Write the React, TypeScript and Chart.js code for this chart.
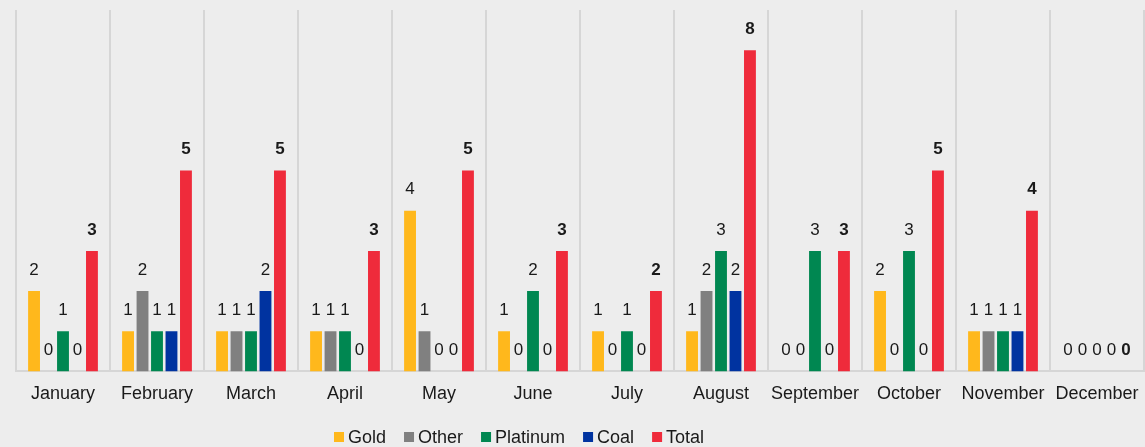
import React, { useEffect, useRef } from "react";
import { Chart, registerables } from "chart.js";

Chart.register(...registerables);

const months = ["January", "February", "March", "April", "May", "June", "July", "August", "September", "October", "November", "December"];
const gold = [2, 1, 1, 1, 4, 1, 1, 1, 0, 2, 1, 0];
const other = [0, 2, 1, 1, 1, 0, 0, 2, 0, 0, 1, 0];
const platinum = [1, 1, 1, 1, 0, 2, 1, 3, 3, 3, 1, 0];
const coal = [0, 1, 2, 0, 0, 0, 0, 2, 0, 0, 1, 0];
const total = [3, 5, 5, 3, 5, 3, 2, 8, 3, 5, 4, 0];

const FONT = "'Liberation Sans', Arial, sans-serif";
const TEXT = "#1a1a1a";

const labelPlugin = {
  id: "barLabels",
  afterDatasetsDraw(chart: any) {
    const ctx = chart.ctx;
    ctx.save();
    ctx.textAlign = "center";
    ctx.textBaseline = "middle";
    chart.data.datasets.forEach((ds: any, di: number) => {
      const meta = chart.getDatasetMeta(di);
      if (meta.hidden) return;
      meta.data.forEach((bar: any, i: number) => {
        const v = ds.data[i];
        ctx.font = (ds.label === "Total" ? "bold " : "") + "17px " + FONT;
        ctx.fillStyle = TEXT;
        ctx.fillText(String(v), bar.x, bar.y - 21);
      });
    });
    ctx.restore();
  },
};

const legendPlugin = {
  id: "customLegend",
  afterDraw(chart: any) {
    const ctx = chart.ctx;
    ctx.save();
    ctx.font = "18px " + FONT;
    ctx.textBaseline = "middle";
    ctx.textAlign = "left";
    const box = 10;
    const gap = 4;
    const itemGap = 18;
    const items = chart.data.datasets.map((ds: any) => ({
      label: ds.label,
      color: ds.backgroundColor,
      w: box + gap + ctx.measureText(ds.label).width,
    }));
    let x = 334;
    const cy = 437;
    items.forEach((it: any) => {
      ctx.fillStyle = it.color;
      ctx.fillRect(x, cy - box / 2, box, box);
      ctx.fillStyle = TEXT;
      ctx.fillText(it.label, x + box + gap, cy + 1);
      x += it.w + itemGap;
    });
    ctx.restore();
  },
};

const bgPlugin = {
  id: "bg",
  beforeDraw(chart: any) {
    const ctx = chart.ctx;
    ctx.save();
    ctx.fillStyle = "#ededed";
    ctx.fillRect(0, 0, chart.width, chart.height);
    ctx.restore();
  },
};

export default function App() {
  const ref = useRef<HTMLCanvasElement | null>(null);
  useEffect(() => {
    document.body.style.margin = "0";
    const mk = (label: string, data: number[], color: string) => ({
      label,
      data,
      backgroundColor: color,
      borderWidth: 0,
      barPercentage: 0.82,
      categoryPercentage: 0.77,
    });
    const chart = new Chart(ref.current!, {
      type: "bar",
      data: {
        labels: months,
        datasets: [
          mk("Gold", gold, "#FFB81C"),
          mk("Other", other, "#808080"),
          mk("Platinum", platinum, "#008751"),
          mk("Coal", coal, "#0033A0"),
          mk("Total", total, "#EF2B3B"),
        ],
      },
      options: {
        animation: false,
        responsive: false,
        layout: { padding: { left: 16, right: 1, top: 10, bottom: 30 } },
        plugins: {
          legend: { display: false },
          tooltip: { enabled: false },
        },
        scales: {
          x: {
            grid: { color: "#d6d6d6", lineWidth: 2, drawTicks: false },
            border: { color: "#d6d6d6", width: 2 },
            ticks: { color: TEXT, font: { family: FONT, size: 18 }, padding: 12, maxRotation: 0, autoSkip: false },
            afterFit: (s: any) => {
              s.paddingRight = 0;
              s.paddingLeft = 0;
            },
          },
          y: {
            display: false,
            min: 0,
            max: 9,
          },
        },
      },
      plugins: [bgPlugin, labelPlugin, legendPlugin],
    });
    return () => chart.destroy();
  }, []);
  return <canvas ref={ref} width={1145} height={447} style={{ display: "block" }} />;
}
